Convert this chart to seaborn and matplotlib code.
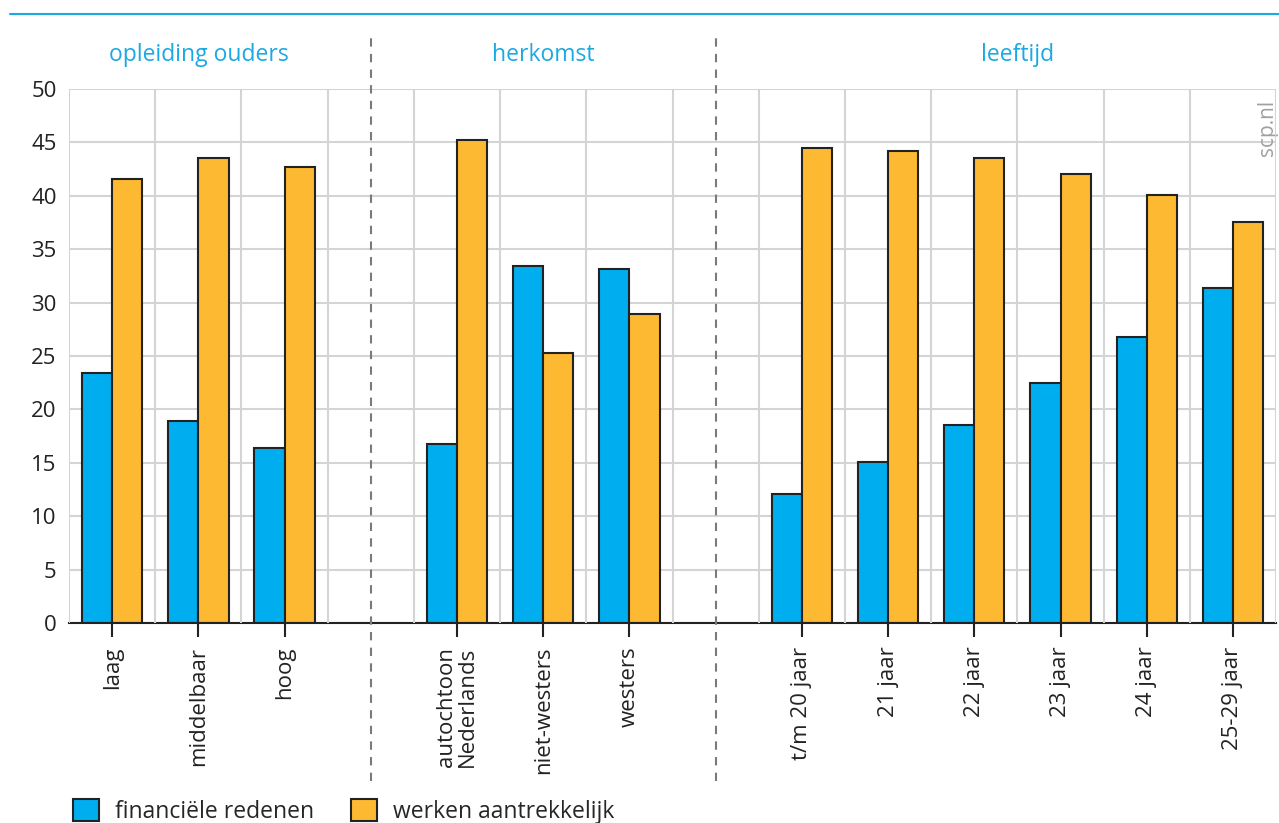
import pandas as pd
import matplotlib.pyplot as plt
import seaborn as sns

# categorieen (lege plekken scheiden de groepen)
categorieen = ['laag', 'middelbaar', 'hoog', ' ',
               'autochtoon\nNederlands', 'niet-westers', 'westers', '  ',
               't/m 20 jaar', '21 jaar', '22 jaar', '23 jaar', '24 jaar', '25-29 jaar']
labels_data = ['laag', 'middelbaar', 'hoog',
               'autochtoon\nNederlands', 'niet-westers', 'westers',
               't/m 20 jaar', '21 jaar', '22 jaar', '23 jaar', '24 jaar', '25-29 jaar']
financieel = [23.4, 18.9, 16.4, 16.8, 33.4, 33.1, 12.1, 15.1, 18.5, 22.5, 26.8, 31.4]
werken = [41.6, 43.5, 42.7, 45.2, 25.3, 28.9, 44.5, 44.2, 43.5, 42.0, 40.1, 37.5]
reeksen = ['financiële redenen', 'werken aantrekkelijk']
groepen = ['opleiding ouders', 'herkomst', 'leeftijd']
groep_pos = [1, 5, 10.5]
scheidingen = [3, 7]

blauw = '#00aeef'
oranje = '#fdb931'
cyaan = '#1aa9e2'

df = pd.DataFrame({
    'categorie': labels_data * 2,
    'waarde': financieel + werken,
    'reeks': [reeksen[0]] * len(financieel) + [reeksen[1]] * len(werken),
})

sns.set_style('white', {'xtick.bottom': True, 'xtick.color': '#222222'})
plt.rcParams['font.family'] = ['Open Sans', 'DejaVu Sans']
plt.rcParams['xtick.major.size'] = 10
plt.rcParams['xtick.major.width'] = 1.5

fig = plt.figure(figsize=(12.79, 8.23), dpi=100)
ax = fig.add_axes([0.054, 0.243, 0.9437, 0.649])

sns.barplot(data=df, x='categorie', y='waarde', hue='reeks', order=categorieen,
            hue_order=reeksen, palette=[blauw, oranje], width=0.7,
            edgecolor='#222222', linewidth=1.5, saturation=1, ax=ax, legend=True)

ax.set_xlim(-0.5, len(categorieen) - 0.5)
ax.set_ylim(0, 50)
ax.set_yticks(range(0, 51, 5))
ax.set_xlabel('')
ax.set_ylabel('')

# rasterlijnen
ax.set_xticks([i + 0.5 for i in range(-1, len(categorieen))], minor=True)
ax.grid(True, which='minor', axis='x', color='#d4d4d4', linewidth=1.5)
ax.grid(True, which='major', axis='y', color='#d4d4d4', linewidth=1.5)
ax.set_axisbelow(True)

ticks = [i for i, c in enumerate(categorieen) if c.strip()]
ax.set_xticks(ticks)
ax.set_xticklabels([categorieen[i] for i in ticks], rotation=90, fontsize=16,
                   color='#222222', va='top', ha='center', linespacing=0.95)
ax.tick_params(axis='x', which='major', bottom=True, direction='out', length=10,
               width=1.5, color='#222222', pad=7)
ax.tick_params(axis='x', which='minor', bottom=False, length=0)
ax.tick_params(axis='y', length=0, labelsize=16, labelcolor='#222222', pad=9)

for s in ['top', 'right', 'left']:
    ax.spines[s].set_visible(False)
ax.spines['bottom'].set_color('#222222')
ax.spines['bottom'].set_linewidth(1.5)

# tickstreepjes bovenop de rest tekenen
ax.xaxis.set_zorder(3)
for t in ax.xaxis.get_major_ticks():
    t.tick1line.set_visible(True)
    t.tick1line.set_zorder(4)

# scheidingslijnen tussen groepen
for x in scheidingen:
    ax.axvline(x, ymin=-0.295, ymax=1.097, color='#7a7a7a', linewidth=1.5,
               linestyle=(0, (4, 3.5)), clip_on=False, zorder=5)

# groepstitels
for naam, x in zip(groepen, groep_pos):
    ax.text(x, 1.063, naam, transform=ax.get_xaxis_transform(), ha='center',
            va='center', fontsize=16.5, color=cyaan)

ax.text(0.9925, 0.98, 'scp.nl', transform=ax.transAxes, rotation=90, ha='center',
        va='top', fontsize=15, color='#a0a0a0')

# lijn bovenaan
fig.add_artist(plt.Line2D([0.008, 1.0], [0.983, 0.983], color=cyaan, linewidth=1.5))

ax.legend(loc='lower left', bbox_to_anchor=(0.003, -0.376), ncol=2, frameon=False,
          fontsize=16.5, handlelength=1.15, handleheight=1.1, columnspacing=1.6,
          handletextpad=0.7, borderaxespad=0, borderpad=0)

fig.savefig('out.png', dpi=100)
